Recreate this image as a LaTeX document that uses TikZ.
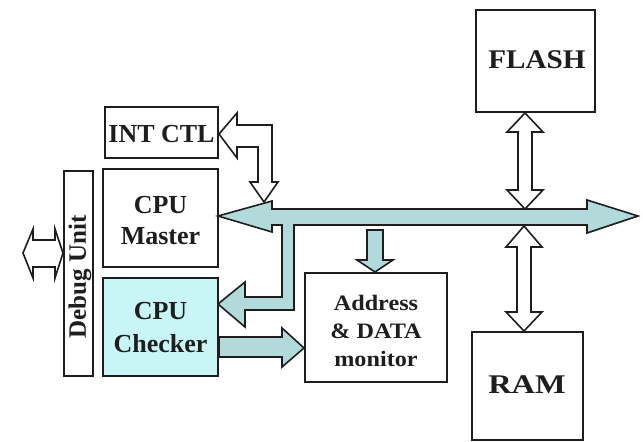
\documentclass[tikz,border=0pt]{standalone}
\usepackage{fontspec}
\setmainfont{Liberation Serif}
\definecolor{busfill}{HTML}{B2DADA}
\definecolor{chkfill}{HTML}{C8F6F6}
\definecolor{ink}{HTML}{1E1E1E}
\begin{document}
\begin{tikzpicture}[x=1pt,y=-1pt,
  box/.style={draw=ink,line width=1.8pt,rectangle,inner sep=0pt,font=\bfseries\fontsize{26}{31}\selectfont,align=center},
  lbl/.style={inner sep=0pt,align=center,text=ink},
  fat/.style={draw=ink,line width=1.6pt,line join=miter,fill=white},
  bus/.style={draw=ink,line width=1.6pt,line join=miter,fill=busfill}]
\useasboundingbox (0,0) rectangle (643,442);
\fill[white] (0,0) rectangle (643,442);

% boxes
\node[box,minimum width=113pt,minimum height=51pt] (intctl) at (161.5,132.5) {};
\node[lbl,font=\bfseries\fontsize{26}{31}\selectfont] (intctltxt) at (161.5,134) {INT CTL};
\node[box,minimum width=115pt,minimum height=98pt] (master) at (160.5,218) {};
\node[lbl,font=\bfseries\fontsize{26}{31}\selectfont] (mastertxt) at (160.5,221) {CPU\\Master};
\node[box,fill=chkfill,minimum width=115pt,minimum height=98pt] (checker) at (160.5,327) {};
\node[lbl,font=\bfseries\fontsize{26}{33}\selectfont] (checkertxt) at (160.5,328) {CPU\\Checker};
\node[box,minimum width=29pt,minimum height=205pt] (debug) at (78.5,273.5) {};
\node[lbl,rotate=90,font=\bfseries\fontsize{25}{28}\selectfont] (debugtxt) at (80,277) {Debug Unit};
\node[box,minimum width=142pt,minimum height=109pt] (addr) at (376,327.5) {};
\node[lbl,font=\bfseries\fontsize{22}{28}\selectfont] (addrtxt) at (376,331) {\scalebox{1.1}[1]{Address}\\\scalebox{1.1}[1]{\& DATA}\\\scalebox{1.1}[1]{monitor}};
\node[box,minimum width=119pt,minimum height=102pt] (flash) at (535.5,61) {};
\node[lbl,font=\bfseries\fontsize{27}{31}\selectfont] (flashtxt) at (537,60) {\scalebox{1.08}[1]{FLASH}};
\node[box,minimum width=111pt,minimum height=108pt] (ram) at (527.5,386) {};
\node[lbl,font=\bfseries\fontsize{27}{31}\selectfont] (ramtxt) at (527,385) {\scalebox{1.2}[1]{RAM}};

% main bus with branch to checker
\draw[bus] (218,216) -- (272,201) -- (272,209) -- (587,209) -- (587,200) -- (638,216)
  -- (587,233) -- (587,225) -- (294,225) -- (294,310) -- (245,310) -- (245,327)
  -- (218,304) -- (245,282) -- (245,297) -- (282,297) -- (282,225) -- (272,225)
  -- (272,232) -- cycle;

% bus -> address monitor
\draw[bus] (367,230) -- (383,230) -- (383,260) -- (393,260) -- (375,272) -- (357,260) -- (367,260) -- cycle;

% checker -> address monitor
\draw[bus] (219,337) -- (282,337) -- (282,328) -- (304,348) -- (282,367) -- (282,357) -- (219,357) -- cycle;

% INT CTL <-> bus
\draw[fat] (219,134) -- (237,113) -- (237,125) -- (272,125) -- (272,182) -- (278,182)
  -- (264,202) -- (250,182) -- (258,182) -- (258,147) -- (237,147) -- (237,158) -- cycle;

% FLASH <-> bus
\draw[fat] (525,113) -- (543,132) -- (532,132) -- (532,190) -- (543,190) -- (525,209)
  -- (507,190) -- (518,190) -- (518,132) -- (507,132) -- cycle;

% RAM <-> bus
\draw[fat] (524,226) -- (542,247) -- (531,247) -- (531,312) -- (542,312) -- (524,331)
  -- (506,312) -- (517,312) -- (517,247) -- (506,247) -- cycle;

% Debug external
\draw[fat] (23,253) -- (33,229) -- (33,240) -- (55,240) -- (55,229) -- (63,253)
  -- (55,278) -- (55,267) -- (33,267) -- (33,278) -- cycle;
\end{tikzpicture}
\end{document}
